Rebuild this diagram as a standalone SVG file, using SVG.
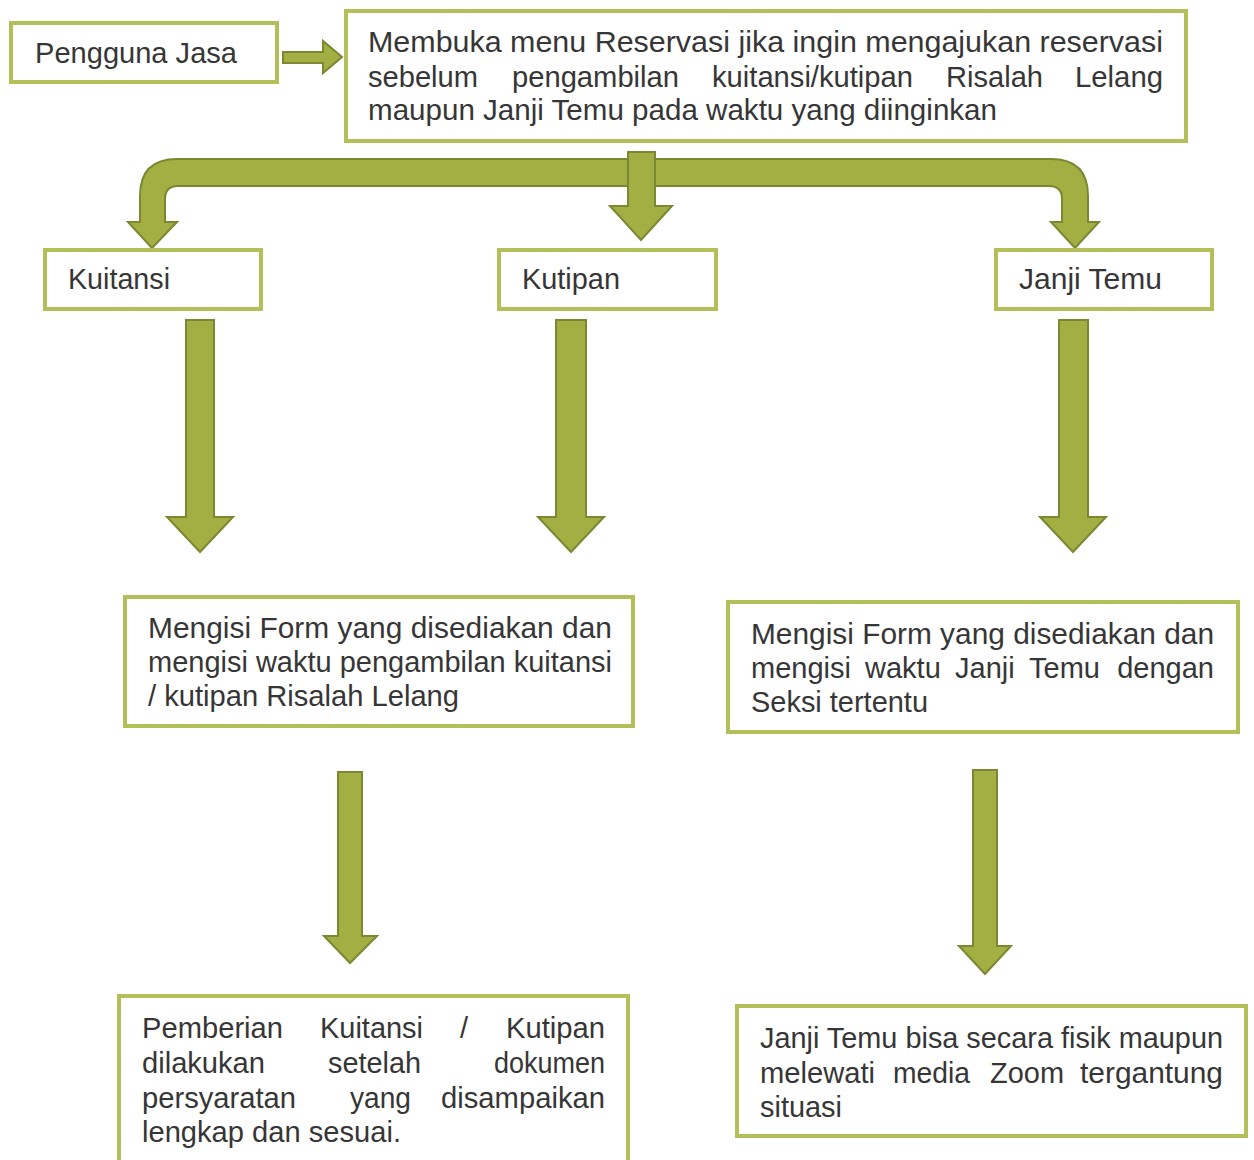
<svg xmlns="http://www.w3.org/2000/svg" width="1254" height="1160" viewBox="0 0 1254 1160">
  <style>
    .box { fill: #ffffff; stroke: #b3bf58; stroke-width: 4; }
    .arrow { fill: #a3af43; stroke: #7c8732; stroke-width: 2; stroke-linejoin: miter; }
    .t { font-family: "Liberation Sans", Arial, sans-serif; font-size: 29px; fill: #363636; }
    .e { text-anchor: end; }
  </style>
  <rect width="1254" height="1160" fill="#ffffff"/>

  <!-- connectors: block arrows between the steps -->
  <g id="connectors">
    <path class="arrow" d="M283 52 L323 52 L323 41 L342 57 L323 73 L323 63 L283 63 Z"/>
    <path class="arrow" d="M140 222 L140 196 Q140 159 177 159 L1051 159 Q1088 159 1088 196 L1088 222 L1099 222 L1075 248 L1051 222 L1062 222 L1062 199 Q1062 186 1049 186 L178 186 Q165 186 165 199 L165 222 L177 222 L152 248 L128 222 Z"/>
    <path class="arrow" d="M628 152 L655 152 L655 206 L672 206 L641 240 L610 206 L628 206 Z"/>
    <path class="arrow" d="M186 320 L214 320 L214 517 L233 517 L200 552 L167 517 L186 517 Z"/>
    <path class="arrow" d="M556 320 L586 320 L586 517 L604 517 L571 552 L538 517 L556 517 Z"/>
    <path class="arrow" d="M1059 320 L1088 320 L1088 517 L1106 517 L1073 552 L1040 517 L1059 517 Z"/>
    <path class="arrow" d="M338 772 L362 772 L362 936 L377 936 L350 963 L324 936 L338 936 Z"/>
    <path class="arrow" d="M973 770 L997 770 L997 946 L1011 946 L985 974 L959 946 L973 946 Z"/>
  </g>

  <g id="pengguna-jasa">
    <rect class="box" x="11" y="23" width="266" height="59"/>
    <text class="t" x="35" y="63" textLength="202" lengthAdjust="spacingAndGlyphs">Pengguna Jasa</text>
  </g>

  <g id="menu-reservasi">
    <rect class="box" x="346" y="11" width="840" height="130"/>
    <text class="t" x="368" y="52" textLength="795" lengthAdjust="spacingAndGlyphs">Membuka menu Reservasi jika ingin mengajukan reservasi</text>
    <text class="t" x="368" y="87" textLength="110" lengthAdjust="spacingAndGlyphs">sebelum</text>
    <text class="t" x="512" y="87" textLength="167" lengthAdjust="spacingAndGlyphs">pengambilan</text>
    <text class="t" x="712" y="87" textLength="201" lengthAdjust="spacingAndGlyphs">kuitansi/kutipan</text>
    <text class="t" x="946" y="87" textLength="97" lengthAdjust="spacingAndGlyphs">Risalah</text>
    <text class="t" x="1075" y="87" textLength="88" lengthAdjust="spacingAndGlyphs">Lelang</text>
    <text class="t" x="368" y="120" textLength="629" lengthAdjust="spacingAndGlyphs">maupun Janji Temu pada waktu yang diinginkan</text>
  </g>

  <g id="kuitansi">
    <rect class="box" x="45" y="250" width="216" height="59"/>
    <text class="t" x="68" y="289" textLength="102" lengthAdjust="spacingAndGlyphs">Kuitansi</text>
  </g>

  <g id="kutipan">
    <rect class="box" x="499" y="250" width="217" height="59"/>
    <text class="t" x="522" y="289" textLength="98" lengthAdjust="spacingAndGlyphs">Kutipan</text>
  </g>

  <g id="janji-temu">
    <rect class="box" x="996" y="250" width="216" height="59"/>
    <text class="t" x="1019" y="289" textLength="143" lengthAdjust="spacingAndGlyphs">Janji Temu</text>
  </g>

  <g id="form-kuitansi">
    <rect class="box" x="125" y="597" width="508" height="129"/>
    <text class="t" x="148" y="638" textLength="464" lengthAdjust="spacingAndGlyphs">Mengisi Form yang disediakan dan</text>
    <text class="t" x="148" y="672" textLength="464" lengthAdjust="spacingAndGlyphs">mengisi waktu pengambilan kuitansi</text>
    <text class="t" x="148" y="706" textLength="311" lengthAdjust="spacingAndGlyphs">/ kutipan Risalah Lelang</text>
  </g>

  <g id="form-janji">
    <rect class="box" x="728" y="602" width="510" height="130"/>
    <text class="t" x="751" y="644" textLength="463" lengthAdjust="spacingAndGlyphs">Mengisi Form yang disediakan dan</text>
    <text class="t" x="751" y="678">mengisi</text>
    <text class="t" x="865" y="678">waktu</text>
    <text class="t" x="955" y="678">Janji</text>
    <text class="t" x="1029" y="678">Temu</text>
    <text class="t e" x="1214" y="678">dengan</text>
    <text class="t" x="751" y="712" textLength="177" lengthAdjust="spacingAndGlyphs">Seksi tertentu</text>
  </g>

  <g id="pemberian">
    <rect class="box" x="119" y="996" width="509" height="180"/>
    <text class="t" x="142" y="1038" textLength="141" lengthAdjust="spacingAndGlyphs">Pemberian</text>
    <text class="t" x="320" y="1038" textLength="103" lengthAdjust="spacingAndGlyphs">Kuitansi</text>
    <text class="t" x="460" y="1038">/</text>
    <text class="t" x="506" y="1038" textLength="99" lengthAdjust="spacingAndGlyphs">Kutipan</text>
    <text class="t" x="142" y="1073" textLength="123" lengthAdjust="spacingAndGlyphs">dilakukan</text>
    <text class="t" x="328" y="1073" textLength="93" lengthAdjust="spacingAndGlyphs">setelah</text>
    <text class="t" x="494" y="1073" textLength="111" lengthAdjust="spacingAndGlyphs">dokumen</text>
    <text class="t" x="142" y="1108" textLength="154" lengthAdjust="spacingAndGlyphs">persyaratan</text>
    <text class="t" x="350" y="1108" textLength="61" lengthAdjust="spacingAndGlyphs">yang</text>
    <text class="t" x="441" y="1108" textLength="164" lengthAdjust="spacingAndGlyphs">disampaikan</text>
    <text class="t" x="142" y="1142" textLength="259" lengthAdjust="spacingAndGlyphs">lengkap dan sesuai.</text>
  </g>

  <g id="janji-fisik-zoom">
    <rect class="box" x="737" y="1006" width="509" height="130"/>
    <text class="t" x="760" y="1048" textLength="463" lengthAdjust="spacingAndGlyphs">Janji Temu bisa secara fisik maupun</text>
    <text class="t" x="760" y="1083" textLength="115" lengthAdjust="spacingAndGlyphs">melewati</text>
    <text class="t" x="893" y="1083" textLength="77" lengthAdjust="spacingAndGlyphs">media</text>
    <text class="t" x="990" y="1083" textLength="74" lengthAdjust="spacingAndGlyphs">Zoom</text>
    <text class="t" x="1080" y="1083" textLength="143" lengthAdjust="spacingAndGlyphs">tergantung</text>
    <text class="t" x="760" y="1117" textLength="82" lengthAdjust="spacingAndGlyphs">situasi</text>
  </g>
</svg>
